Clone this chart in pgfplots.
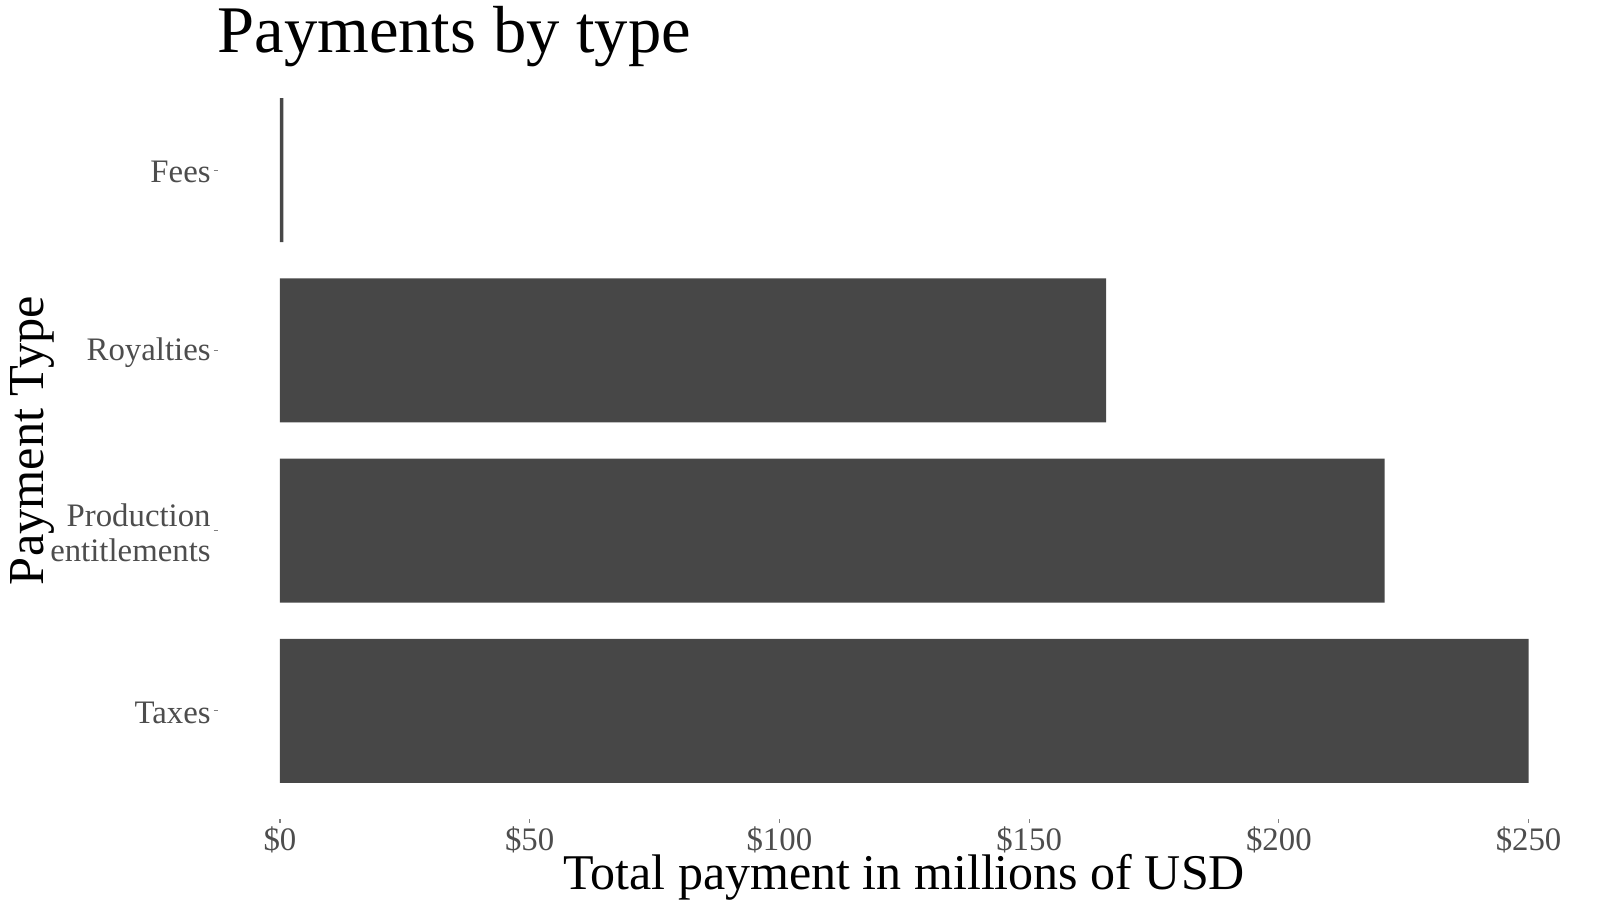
\documentclass[border=0pt]{standalone}
\usepackage{fontspec}
\setmainfont{Liberation Serif}
\usepackage{pgfplots}
\pgfplotsset{compat=1.18}
\definecolor{barfill}{HTML}{474747}
\definecolor{ticktext}{HTML}{4D4D4D}
\begin{document}
\begin{tikzpicture}
\useasboundingbox (0pt,0pt) rectangle (800pt,450pt);
\begin{axis}[
 at={(108.75pt,40.5pt)}, anchor=south west,
 scale only axis, width=686.75pt, height=378.5pt,
 xbar, bar width=0.8, bar shift=0pt,
 xmin=-12.5, xmax=262.5, ymin=0.4, ymax=4.6,
 axis x line*=bottom, axis y line*=left, axis line style={draw=none},
 tick align=outside, major tick length=2pt,
 tick style={color=gray, line width=0.6pt},
 xtick={0,50,100,150,200,250},
 xticklabels={\$0,\$50,\$100,\$150,\$200,\$250},
 ytick={1,2,3,4},
 yticklabels={Taxes,{Production\\entitlements},Royalties,Fees},
 ticklabel style={font=\fontsize{16.4}{17.7}\selectfont, text=ticktext, inner sep=0pt},
 xticklabel style={anchor=north, yshift=-1.5pt},
 yticklabel style={anchor=east, align=right, xshift=-1.25pt, yshift=-1pt},
 xlabel={Total payment in millions of USD},
 xlabel style={font=\fontsize{25}{30}\selectfont, at={(axis description cs:0.5,-0.0925)}, anchor=base},
 ylabel={Payment Type},
 ylabel style={font=\fontsize{25.2}{30}\selectfont, at={(axis description cs:-0.127,0.5)}, anchor=base},
]
\addplot[fill=barfill, draw=none] coordinates {(250.0,1) (221.2,2) (165.4,3) (0.7,4)};
\end{axis}
\node[anchor=base west, font=\fontsize{33.3}{40}\selectfont, inner sep=0pt] at (108.5pt,423.5pt) {Payments by type};
\end{tikzpicture}
\end{document}
